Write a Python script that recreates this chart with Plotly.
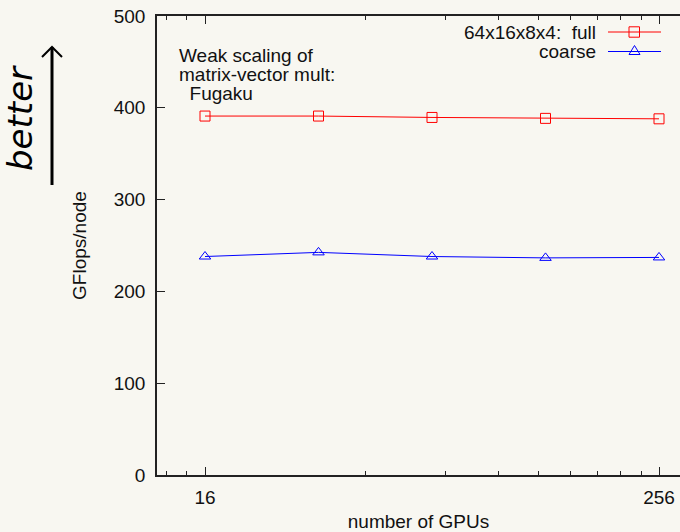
import plotly.graph_objects as go

# ---- data ----
gpus = [16, 32, 64, 128, 256]
full = [391, 391, 389.5, 388.5, 388]
coarse = [238, 242.5, 238, 236.5, 237]
series_names = ["64x16x8x4:  full", "coarse"]
x_tickvals = [16, 256]
x_ticktext = ["16", "256"]
x_minor = [12.667, 14.333, 42.667, 69.333, 96, 122.667, 149.333, 176, 202.667, 229.333]
y_tickvals = [0, 100, 200, 300, 400, 500]
note_lines = ["Weak scaling of", "matrix-vector mult:", "\u00a0\u00a0Fugaku"]

W, H = 680, 532
L, R, T, B = 157, 0, 16, 57
PW, PH = W - L - R, H - T - B

def px(x):
    return (x - L) / PW

def py(y):
    return (H - B - y) / PH

FONT = "Liberation Sans, Arial, sans-serif"
FS = 19
BG = "#f8f7f1"
RED = "#ff0000"
BLUE = "#0000ff"

fig = go.Figure()
fig.add_trace(go.Scatter(x=gpus, y=full, mode="lines+markers", name=series_names[0],
                         line=dict(color=RED, width=1),
                         marker=dict(symbol="square-open", size=10, color=RED, line=dict(width=1, color=RED))))
fig.add_trace(go.Scatter(x=gpus, y=coarse, mode="lines+markers", name=series_names[1],
                         line=dict(color=BLUE, width=1),
                         marker=dict(symbol="triangle-up-open", size=10, color=BLUE, line=dict(width=1, color=BLUE))))

axis_common = dict(showgrid=False, zeroline=False, showline=True, linecolor="#222", linewidth=1.5,
                   ticks="inside", ticklen=8, tickcolor="#222", tickwidth=1, automargin=False,
                   tickfont=dict(family=FONT, size=FS, color="#111"))

fig.update_xaxes(type="log", range=[1.0768, 2.4639], tickvals=x_tickvals, ticktext=x_ticktext,
                 mirror="ticks", ticklabelstandoff=4,
                 minor=dict(tickvals=x_minor, ticks="inside", ticklen=4, tickcolor="#222", tickwidth=1),
                 title=dict(text="number of GPUs", font=dict(family=FONT, size=FS, color="#111"), standoff=14),
                 **axis_common)
fig.update_yaxes(range=[0, 500], tickvals=y_tickvals, mirror=False, ticklabelstandoff=6,
                 title=dict(text="GFlops/node", font=dict(family=FONT, size=FS, color="#111"), standoff=22),
                 **axis_common)

shapes = []
# legend samples (gnuplot style: text left, sample right)
for yy, col, kind in [(32, RED, "sq"), (51.5, BLUE, "tri")]:
    shapes.append(dict(type="line", xref="paper", yref="paper", x0=px(608), x1=px(661), y0=py(yy), y1=py(yy),
                       line=dict(color=col, width=1)))
    if kind == "sq":
        shapes.append(dict(type="rect", xref="paper", yref="paper", x0=px(629), x1=px(639.5),
                           y0=py(yy + 5.2), y1=py(yy - 5.2), line=dict(color=col, width=1), fillcolor="rgba(0,0,0,0)"))
    else:
        path = "M {} {} L {} {} L {} {} Z".format(px(629), py(yy + 3), px(640), py(yy + 3), px(634.5), py(yy - 6))
        shapes.append(dict(type="path", xref="paper", yref="paper", path=path, line=dict(color=col, width=1)))

# "better" arrow
shapes.append(dict(type="line", xref="paper", yref="paper", x0=px(52), x1=px(52), y0=py(185), y1=py(47),
                   line=dict(color="black", width=3)))
shapes.append(dict(type="path", xref="paper", yref="paper",
                   path="M {} {} L {} {} L {} {}".format(px(42), py(57), px(52), py(47), px(62), py(57)),
                   line=dict(color="black", width=2)))

annotations = []
for i, line in enumerate(note_lines):
    annotations.append(dict(text=line, xref="paper", yref="paper", x=px(177), y=py(55 + 19.5 * i),
                            xanchor="left", yanchor="middle", align="left", showarrow=False,
                            font=dict(family=FONT, size=FS, color="#111")))
annotations += [
    dict(text=series_names[0], xref="paper", yref="paper", x=px(598), y=py(32), xanchor="right", yanchor="middle",
         showarrow=False, font=dict(family=FONT, size=FS, color="#111")),
    dict(text=series_names[1], xref="paper", yref="paper", x=px(598), y=py(51.5), xanchor="right", yanchor="middle",
         showarrow=False, font=dict(family=FONT, size=FS, color="#111")),
    dict(text="<i>better</i>", xref="paper", yref="paper", x=px(20), y=py(118), xanchor="center", yanchor="middle",
         textangle=-90, showarrow=False, font=dict(family="DejaVu Sans", size=34, color="black")),
]

fig.update_layout(width=W, height=H, margin=dict(l=L, r=R, t=T, b=B, pad=0, autoexpand=False),
                  paper_bgcolor=BG, plot_bgcolor=BG, showlegend=False,
                  shapes=shapes, annotations=annotations,
                  font=dict(family=FONT, size=FS, color="#111"))

fig.write_html("out.html")
